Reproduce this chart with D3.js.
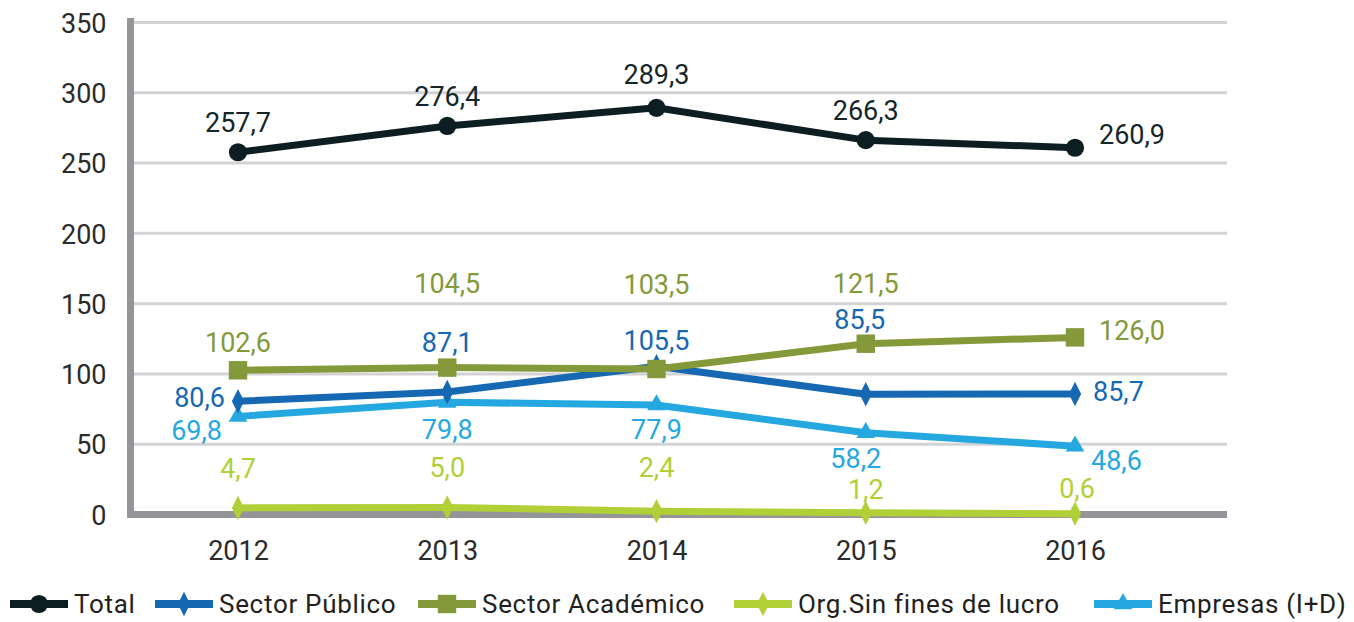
<!DOCTYPE html>
<html>
<head>
<meta charset="utf-8">
<script src="https://d3js.org/d3.v7.min.js"></script>
<style>
  body { margin: 0; background: #fff; }
  text { font-family: Roboto, "Noto Sans", sans-serif; }
</style>
</head>
<body>
<div id="chart"></div>
<script>
var years = ["2012", "2013", "2014", "2015", "2016"];
var yTicks = [0, 50, 100, 150, 200, 250, 300, 350];

var total      = [257.7, 276.4, 289.3, 266.3, 260.9];
var publico    = [80.6, 87.1, 105.5, 85.5, 85.7];
var academico  = [102.6, 104.5, 103.5, 121.5, 126.0];
var sinFines   = [4.7, 5.0, 2.4, 1.2, 0.6];
var empresas   = [69.8, 79.8, 77.9, 58.2, 48.6];

var seriesNames = ["Total", "Sector Público", "Sector Académico", "Org.Sin fines de lucro", "Empresas (I+D)"];

// label placement per point: [dx, dy, anchor]
var labelPos = {
  "Total": [[0,-30,"middle"],[0,-30,"middle"],[0,-34,"middle"],[0,-30,"middle"],[24,-13,"start"]],
  "Sector Público": [[-13,-4,"end"],[0,-50,"middle"],[0,-26,"middle"],[-6,-75,"middle"],[18,-3,"start"]],
  "Sector Académico": [[0,-28,"middle"],[0,-84,"middle"],[0,-85,"middle"],[0,-60,"middle"],[24,-7,"start"]],
  "Org.Sin fines de lucro": [[0,-40,"middle"],[0,-40,"middle"],[0,-44,"middle"],[0,-24,"middle"],[2,-25,"middle"]],
  "Empresas (I+D)": [[-16,14,"end"],[0,27,"middle"],[0,24,"middle"],[-10,26,"middle"],[16,14,"start"]]
};

var series = [
  {name: seriesNames[0], values: total,     color: "#0c1e21", symbol: d3.symbolCircle,   size: 260},
  {name: seriesNames[1], values: publico,   color: "#1668b2", symbol: d3.symbolDiamond,  size: 130},
  {name: seriesNames[2], values: academico, color: "#84993a", symbol: d3.symbolSquare,   size: 340},
  {name: seriesNames[3], values: sinFines,  color: "#b1cf37", symbol: d3.symbolDiamond,  size: 130},
  {name: seriesNames[4], values: empresas,  color: "#25a8df", symbol: d3.symbolTriangle, size: 150}
];

var w = 1354, h = 622;
var svg = d3.select("#chart").append("svg").attr("width", w).attr("height", h);

var x = d3.scalePoint().domain(years).range([238, 1075]);
var y = d3.scaleLinear().domain([0, 350]).range([514.5, 22.5]);
var plotLeft = 127, plotRight = 1227;

// gridlines
svg.append("g").selectAll("line")
  .data(yTicks.filter(function(d) { return d > 0; }))
  .enter().append("line")
  .attr("x1", plotLeft).attr("x2", plotRight)
  .attr("y1", function(d) { return y(d); }).attr("y2", function(d) { return y(d); })
  .attr("stroke", "#d3d3d5").attr("stroke-width", 3);

// y axis
var yAxis = svg.append("g")
  .attr("transform", "translate(130.5,0)")
  .call(d3.axisLeft(y).tickValues(yTicks).tickSize(0).tickPadding(24));
yAxis.select(".domain").remove();
yAxis.selectAll("text")
  .attr("font-size", "27px").attr("fill", "#2b2b2b")
  .attr("font-family", "Roboto, sans-serif")
  .attr("dy", "0.36em");

svg.append("line")
  .attr("x1", 130.5).attr("x2", 130.5).attr("y1", 18).attr("y2", 518)
  .attr("stroke", "#939598").attr("stroke-width", 7);
svg.append("line")
  .attr("x1", plotLeft).attr("x2", plotRight).attr("y1", y(0)).attr("y2", y(0))
  .attr("stroke", "#939598").attr("stroke-width", 7);

// x axis labels
var xAxis = svg.append("g")
  .attr("transform", "translate(0," + y(0) + ")")
  .call(d3.axisBottom(x).tickSize(0).tickPadding(26));
xAxis.select(".domain").remove();
xAxis.selectAll("text")
  .attr("font-size", "27px").attr("fill", "#2b2b2b")
  .attr("font-family", "Roboto, sans-serif");

var line = d3.line()
  .x(function(d, i) { return x(years[i]); })
  .y(function(d) { return y(d); });

// draw bottom series first
var order = [3, 4, 1, 2, 0];
order.forEach(function(si) {
  var s = series[si];
  var g = svg.append("g").attr("class", "series");
  g.append("path")
    .datum(s.values)
    .attr("d", line)
    .attr("fill", "none")
    .attr("stroke", s.color)
    .attr("stroke-width", 7)
    .attr("stroke-linejoin", "round");
  g.selectAll("path.mk")
    .data(s.values)
    .enter().append("path")
    .attr("class", "mk")
    .attr("d", d3.symbol().type(s.symbol).size(s.size))
    .attr("transform", function(d, i) {
      var sc = s.symbol === d3.symbolDiamond ? " scale(1,1.15)" : "";
      return "translate(" + x(years[i]) + "," + y(d) + ")" + sc;
    })
    .attr("fill", s.color);
});

// value labels
series.forEach(function(s) {
  var pos = labelPos[s.name];
  svg.append("g").selectAll("text")
    .data(s.values)
    .enter().append("text")
    .attr("x", function(d, i) { return x(years[i]) + pos[i][0]; })
    .attr("y", function(d, i) { return y(d) + pos[i][1]; })
    .attr("dy", "0.36em")
    .attr("text-anchor", function(d, i) { return pos[i][2]; })
    .attr("font-size", "27px")
    .attr("fill", s.color === "#0c1e21" ? "#14262a" : s.color)
    .text(function(d) { return d.toFixed(1).replace(".", ","); });
});

// legend
var legendX = [10, 155, 418, 734, 1094];
var legend = svg.append("g").attr("transform", "translate(0,604)");
series.forEach(function(s, i) {
  var lg = legend.append("g").attr("transform", "translate(" + legendX[i] + ",0)");
  lg.append("line").attr("x1", 0).attr("x2", 58).attr("y1", 0).attr("y2", 0)
    .attr("stroke", s.color).attr("stroke-width", 8);
  lg.append("path")
    .attr("d", d3.symbol().type(s.symbol).size(s.size))
    .attr("transform", "translate(29,0)" + (s.symbol === d3.symbolDiamond ? " scale(1,1.15)" : ""))
    .attr("fill", s.color);
  lg.append("text")
    .attr("x", 64).attr("y", 0).attr("dy", "0.34em")
    .attr("font-size", "26px").attr("letter-spacing", "0.7px")
    .attr("fill", "#231f20")
    .text(s.name);
});
</script>
</body>
</html>
